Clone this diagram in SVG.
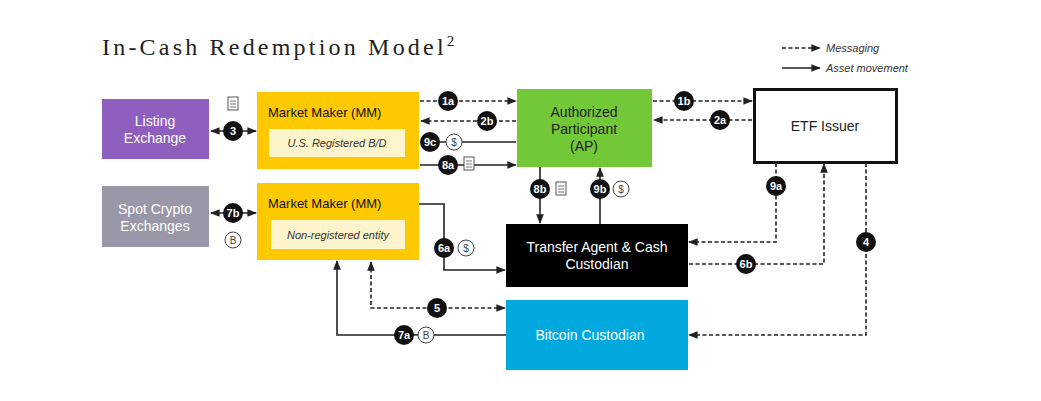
<svg xmlns="http://www.w3.org/2000/svg" width="1041" height="401" viewBox="0 0 1041 401">
<style>
.t{font-family:"Liberation Sans",Arial,sans-serif}
.b{font-family:"Liberation Sans",Arial,sans-serif;font-size:11px;font-weight:bold;fill:#fff;text-anchor:middle}
.d{stroke:#222;stroke-width:1.6;fill:none;stroke-dasharray:4,2.5}
.s{stroke:#222;stroke-width:1.6;fill:none}
.i{fill:#fff;stroke:#444;stroke-width:1}
.it{font-family:"Liberation Sans",Arial,sans-serif;font-size:10px;fill:#444;text-anchor:middle}
</style>
<defs>
<marker id="a" viewBox="0 0 10 10" refX="9" refY="5" markerWidth="6" markerHeight="6" orient="auto-start-reverse"><path d="M0,1 L10,5 L0,9 z" fill="#222"/></marker>
<g id="bg"><ellipse rx="10" ry="10" fill="#111"/></g>
<g id="sc"><rect x="-5" y="-7" width="10" height="13" fill="#fff" stroke="#555" stroke-width="1"/><line x1="-3" y1="-3" x2="3" y2="-3" stroke="#777"/><line x1="-3" y1="0" x2="3" y2="0" stroke="#777"/><line x1="-3" y1="3" x2="3" y2="3" stroke="#777"/></g>
</defs>
<rect width="1041" height="401" fill="#fff"/>
<text x="102" y="55" font-family="Liberation Serif,serif" font-size="24" letter-spacing="3.2" fill="#222">In-Cash Redemption Model<tspan font-size="15" dy="-9" letter-spacing="0">2</tspan></text>
<g id="legend" class="t">
<line x1="782" y1="48" x2="820" y2="48" class="d" marker-end="url(#a)"/>
<text x="826" y="52" font-size="11" font-style="italic" fill="#333">Messaging</text>
<line x1="782" y1="68" x2="820" y2="68" class="s" marker-end="url(#a)"/>
<text x="826" y="72" font-size="11" font-style="italic" fill="#333">Asset movement</text>
</g>
<g id="listing"><rect x="102" y="99" width="107" height="60" fill="#8e5fbf"/><text class="t" x="155" y="126" font-size="14" fill="#fff" text-anchor="middle">Listing<tspan x="155" dy="17">Exchange</tspan></text></g>
<g id="spot"><rect x="102" y="186" width="107" height="61" fill="#9a97a8"/><text class="t" x="155" y="214" font-size="14" fill="#fff" text-anchor="middle">Spot Crypto<tspan x="155" dy="17">Exchanges</tspan></text></g>
<g id="mm1"><rect x="257" y="92" width="162" height="77" fill="#ffc900"/><text class="t" x="268" y="117" font-size="13" fill="#111">Market Maker (MM)</text><rect x="269" y="129" width="136" height="28" fill="#fff5cc"/><text class="t" x="337" y="147" font-size="11" font-style="italic" fill="#333" text-anchor="middle">U.S. Registered B/D</text></g>
<g id="mm2"><rect x="257" y="183" width="162" height="77" fill="#ffc900"/><text class="t" x="268" y="208" font-size="13" fill="#111">Market Maker (MM)</text><rect x="271" y="220" width="134" height="29" fill="#fff5cc"/><text class="t" x="338" y="239" font-size="11" font-style="italic" fill="#333" text-anchor="middle">Non-registered entity</text></g>
<g id="ap"><rect x="517" y="89" width="135" height="78" fill="#72c837"/><text class="t" x="584" y="117" font-size="14" fill="#222" text-anchor="middle">Authorized<tspan x="584" dy="17">Participant</tspan><tspan x="584" dy="17">(AP)</tspan></text></g>
<g id="etf"><rect x="754.5" y="89.5" width="142" height="73" fill="#fff" stroke="#111" stroke-width="3"/><text class="t" x="825" y="131" font-size="14" fill="#222" text-anchor="middle">ETF Issuer</text></g>
<g id="ta"><rect x="506" y="224" width="182" height="63" fill="#000"/><text class="t" x="597" y="252" font-size="14" fill="#fff" text-anchor="middle">Transfer Agent &amp; Cash<tspan x="597" dy="17">Custodian</tspan></text></g>
<g id="btc"><rect x="506" y="300" width="182" height="70" fill="#00a8de"/><text class="t" x="590" y="340" font-size="14" fill="#fff" text-anchor="middle">Bitcoin Custodian</text></g>
<g id="connectors">
<line x1="420" y1="101" x2="516" y2="101" class="d" marker-end="url(#a)"/>
<line x1="516" y1="121" x2="421" y2="121" class="d" marker-end="url(#a)"/>
<line x1="516" y1="142" x2="421" y2="142" class="s" marker-end="url(#a)"/>
<line x1="420" y1="165" x2="516" y2="165" class="s" marker-end="url(#a)"/>
<line x1="653" y1="101" x2="752" y2="101" class="d" marker-end="url(#a)"/>
<line x1="752" y1="120" x2="654" y2="120" class="d" marker-end="url(#a)"/>
<line x1="211" y1="131" x2="256" y2="131" class="s" marker-start="url(#a)" marker-end="url(#a)"/>
<line x1="211" y1="213" x2="256" y2="213" class="s" marker-start="url(#a)" marker-end="url(#a)"/>
<line x1="540" y1="167" x2="540" y2="223" class="s" marker-end="url(#a)"/>
<line x1="600" y1="224" x2="600" y2="168" class="s" marker-end="url(#a)"/>
<path d="M419,204 H444 V270 H505" class="s" marker-end="url(#a)"/>
<path d="M776,163 V242 H689" class="d" marker-end="url(#a)"/>
<path d="M689,264 H824 V164" class="d" marker-end="url(#a)"/>
<path d="M866,163 V335 H689" class="d" marker-end="url(#a)"/>
<path d="M371,262 V308 H505" class="d" marker-start="url(#a)" marker-end="url(#a)"/>
<path d="M506,335 H337 V261" class="s" marker-end="url(#a)"/>
</g>
<g id="badges">
<use href="#bg" x="448" y="101"/><text class="b" x="448" y="105">1a</text>
<use href="#bg" x="487" y="121"/><text class="b" x="487" y="125">2b</text>
<use href="#bg" x="430" y="142"/><text class="b" x="430" y="146">9c</text>
<circle cx="454" cy="142" r="8" class="i"/><text class="it" x="454" y="146">$</text>
<use href="#bg" x="448" y="165"/><text class="b" x="448" y="169">8a</text>
<use href="#sc" x="469" y="164"/>
<use href="#bg" x="684" y="101"/><text class="b" x="684" y="105">1b</text>
<use href="#bg" x="720" y="120"/><text class="b" x="720" y="124">2a</text>
<use href="#bg" x="233" y="131"/><text class="b" x="233" y="135">3</text>
<use href="#sc" x="233" y="104"/>
<use href="#bg" x="233" y="213"/><text class="b" x="233" y="217">7b</text>
<circle cx="233" cy="240" r="8" class="i"/><text class="it" x="233" y="244">B</text>
<use href="#bg" x="540" y="189"/><text class="b" x="540" y="193">8b</text>
<use href="#sc" x="561" y="189"/>
<use href="#bg" x="600" y="189"/><text class="b" x="600" y="193">9b</text>
<circle cx="621" cy="189" r="8" class="i"/><text class="it" x="621" y="193">$</text>
<use href="#bg" x="444" y="248"/><text class="b" x="444" y="252">6a</text>
<circle cx="466" cy="248" r="8" class="i"/><text class="it" x="466" y="252">$</text>
<use href="#bg" x="776" y="186"/><text class="b" x="776" y="190">9a</text>
<use href="#bg" x="746" y="264"/><text class="b" x="746" y="268">6b</text>
<use href="#bg" x="866" y="242"/><text class="b" x="866" y="246">4</text>
<use href="#bg" x="437" y="308"/><text class="b" x="437" y="312">5</text>
<use href="#bg" x="404" y="335"/><text class="b" x="404" y="339">7a</text>
<circle cx="426" cy="335" r="8" class="i"/><text class="it" x="426" y="339">B</text>
</g>
</svg>
